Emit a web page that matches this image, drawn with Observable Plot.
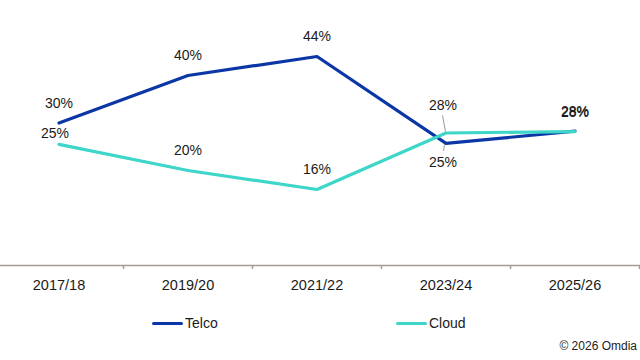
<!DOCTYPE html>
<html>
<head>
<meta charset="utf-8">
<script src="https://cdn.jsdelivr.net/npm/d3@7"></script>
<script src="https://cdn.jsdelivr.net/npm/@observablehq/plot@0.6"></script>
<style>
  body { margin: 0; background: #fff; font-family: "Liberation Sans", Arial, sans-serif; }
  #wrap { position: relative; width: 640px; height: 360px; overflow: hidden; background: #fff; }
  #chart { position: absolute; left: 0; top: 0; }
  .leg { position: absolute; top: 314px; height: 18px; display: flex; align-items: center; font-size: 14px; color: #1a1a1a; }
  .sw { display: inline-block; width: 31px; height: 3px; border-radius: 1.5px; margin-right: 2px; }
  #credit { position: absolute; right: 3px; top: 339px; font-size: 12px; color: #222; }
</style>
</head>
<body>
<div id="wrap">
  <div id="chart"></div>
  <div id="legend"></div>
  <div id="credit">© 2026 Omdia</div>
</div>
<script>
// ---- data ----
const years = ["2017/18", "2019/20", "2021/22", "2023/24", "2025/26"];
const seriesNames = ["Telco", "Cloud"];
const telco = [30, 40, 44, 25.7, 28.3];
const cloud = [25.5, 20, 16, 27.9, 28.2];
const telcoLabels = ["30%", "40%", "44%", "25%", "28%"];
const cloudLabels = ["25%", "20%", "16%", "28%", "28%"];
const seriesColors = ["#0b36a6", "#3dd6c8"];
// label placement (semantic): above, near, leaderAbove, leaderBelow
const telcoPlace = ["above", "above", "above", "leaderBelow", "above"];
const cloudPlace = ["near", "above", "above", "leaderAbove", "above"];

const rows = [];
years.forEach((y, i) => rows.push({series: "Telco", year: y, value: telco[i], label: telcoLabels[i], place: telcoPlace[i]}));
years.forEach((y, i) => rows.push({series: "Cloud", year: y, value: cloud[i], label: cloudLabels[i], place: cloudPlace[i]}));

const xRange = [-6, 639];
const step = (xRange[1] - xRange[0]) / years.length;
const axisColor = "#a59d95";
const textColor = "#1a1a1a";

const byPlace = p => rows.filter(d => d.place === p);

const leaders = (index, scales) => {
  const x = scales.x, y = scales.y;
  const bw = typeof x.bandwidth === "function" ? x.bandwidth() : 0;
  const g = d3.create("svg:g").attr("stroke", "#9a9a9a").attr("stroke-width", 1);
  rows.forEach(d => {
    const cx = x(d.year) + bw / 2, cy = y(d.value);
    if (d.place === "leaderAbove") {
      g.append("line").attr("x1", cx - 3).attr("y1", cy - 17).attr("x2", cx).attr("y2", cy - 1);
    } else if (d.place === "leaderBelow") {
      g.append("line").attr("x1", cx - 1).attr("y1", cy + 1).attr("x2", cx - 2).attr("y2", cy + 8);
    }
  });
  return g.node();
};

const textOpts = {x: "year", y: "value", text: "label", fill: textColor, fontSize: 14};

const chart = Plot.plot({
  width: 640,
  height: 300,
  marginTop: 27.5,
  marginBottom: 35,
  marginLeft: 0,
  marginRight: 0,
  style: {fontFamily: "'Liberation Sans', Arial, sans-serif", background: "#fff", color: textColor},
  x: {type: "band", domain: years, range: xRange, padding: 0},
  y: {domain: [0, 50], axis: null},
  color: {domain: seriesNames, range: seriesColors},
  marks: [
    Plot.ruleY([0], {stroke: axisColor, strokeWidth: 1.5}),
    Plot.axisX({tickSize: 4, tickFormat: () => "", dx: step / 2, stroke: axisColor, strokeWidth: 1.5, label: null}),
    Plot.axisX({tickSize: 0, tickPadding: 14, fontSize: 14.5, fill: textColor, label: null}),
    Plot.line(rows.filter(d => d.series === "Telco"), {x: "year", y: "value", stroke: "series", strokeWidth: 3.2, curve: "linear"}),
    Plot.line(rows.filter(d => d.series === "Cloud"), {x: "year", y: "value", stroke: "series", strokeWidth: 3.2, curve: "linear"}),
    leaders,
    Plot.text(byPlace("above"), {...textOpts, dy: -19.5}),
    Plot.text(byPlace("near"), {...textOpts, dy: -11, dx: -4}),
    Plot.text(byPlace("leaderAbove"), {...textOpts, dy: -27, dx: -3}),
    Plot.text(byPlace("leaderBelow"), {...textOpts, dy: 19, dx: -3})
  ]
});
document.getElementById("chart").appendChild(chart);

// legend (HTML, below the SVG)
const legendLefts = [152, 396];
const legend = document.getElementById("legend");
seriesNames.forEach((name, i) => {
  const item = document.createElement("div");
  item.className = "leg";
  item.style.left = legendLefts[i] + "px";
  const sw = document.createElement("span");
  sw.className = "sw";
  sw.style.background = seriesColors[i];
  item.appendChild(sw);
  item.appendChild(document.createTextNode(name));
  legend.appendChild(item);
});
</script>
</body>
</html>
